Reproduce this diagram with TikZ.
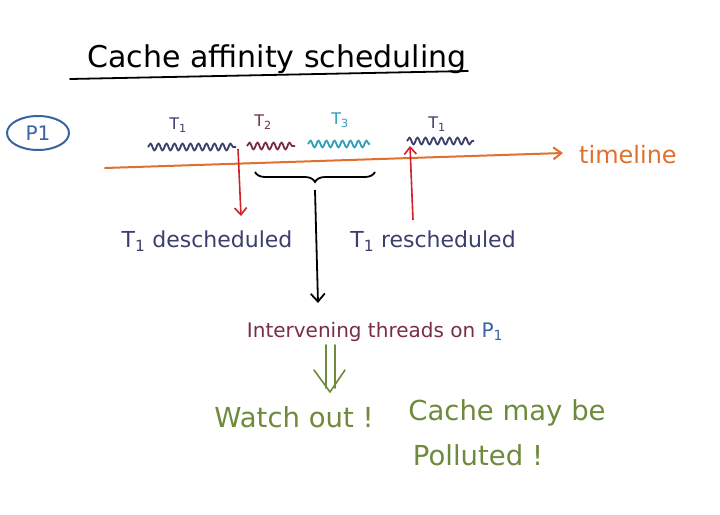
\documentclass[tikz,border=0pt]{standalone}
\usepackage{fontspec}
\setmainfont{DejaVu Sans}
\usetikzlibrary{arrows.meta,decorations.pathmorphing,decorations.pathreplacing,shapes.geometric}
\definecolor{navy}{HTML}{3C3F6E}
\definecolor{maroon}{HTML}{7A2E45}
\definecolor{tealc}{HTML}{2EA0B8}
\definecolor{orangec}{HTML}{E0702E}
\definecolor{redc}{HTML}{D0202C}
\definecolor{bluec}{HTML}{3A64A0}
\definecolor{greenc}{HTML}{6E8B3D}
\newcommand{\sbs}[1]{\textsubscript{#1}}
\tikzset{
  wave/.style={line width=1.8pt, line join=round, decorate, decoration={snake, amplitude=3.5pt, segment length=8pt}},
  lbl/.style={font=\fontsize{22}{24}\selectfont, inner sep=1pt, anchor=base},
  tlbl/.style={font=\fontsize{16}{18}\selectfont, inner sep=1pt},
  glbl/.style={font=\fontsize{27.5}{29}\selectfont, inner sep=1pt, anchor=base, text=greenc},
  redarrow/.style={draw=redc, line width=1.6pt, -{Straight Barb[length=7pt,width=12pt]}},
}
\begin{document}
\begin{tikzpicture}[x=1pt,y=-1pt]
\useasboundingbox (0,0) rectangle (720,514);
\fill[white] (0,0) rectangle (720,514);
% title
\node[font=\fontsize{30}{32}\selectfont, anchor=base, inner sep=0pt] (title) at (277,67) {Cache affinity scheduling};
\coordinate (ul1) at (70,79);
\coordinate (ul2) at (468,71);
\draw[line width=1.8pt, line cap=round] (ul1) -- (ul2);
% P1
\node[draw=bluec, text=bluec, line width=2pt, ellipse, minimum width=62pt, minimum height=34pt, inner sep=0pt, font=\fontsize{20}{22}\selectfont] (p1) at (38,133) {P1};
% timeline
\coordinate (tl0) at (105,168);
\coordinate (tl1) at (563,153);
\draw[orangec, line width=2pt, line cap=round, -{Straight Barb[length=8pt,width=12pt]}] (tl0) -- (tl1);
\node[text=orangec, lbl, anchor=base west, font=\fontsize{24}{26}\selectfont] (tl) at (578,163) {timeline};
% waves
\coordinate (w1a) at (148,147); \coordinate (w1b) at (236,147);
\coordinate (w2a) at (247,146); \coordinate (w2b) at (295,146);
\coordinate (w3a) at (308,144); \coordinate (w3b) at (370,144);
\coordinate (w4a) at (407,141); \coordinate (w4b) at (474,141);
\draw[navy, wave] (w1a) -- (w1b);
\draw[maroon, wave] (w2a) -- (w2b);
\draw[tealc, wave] (w3a) -- (w3b);
\draw[navy, wave] (w4a) -- (w4b);
\node[text=navy, tlbl] (t1a) at (178,125) {T\sbs{1}};
\node[text=maroon, tlbl] (t2) at (263,122) {T\sbs{2}};
\node[text=tealc, tlbl] (t3) at (340,120) {T\sbs{3}};
\node[text=navy, tlbl] (t1b) at (437,124) {T\sbs{1}};
% descheduled / rescheduled
\node[text=navy, lbl] (desch) at (207,247) {T\sbs{1} descheduled};
\node[text=navy, lbl] (resch) at (433,247) {T\sbs{1} rescheduled};
\coordinate (d0) at (238,149);
\coordinate (d1) at (241,216);
\draw[redarrow] (d0) -- (d1);
\coordinate (r0) at (413,220);
\coordinate (r1) at (410,146);
\draw[redarrow] (r0) -- (r1);
% brace
\coordinate (b0) at (255,172);
\coordinate (b1) at (375,172);
\draw[line width=1.8pt, decorate, decoration={brace, mirror, amplitude=10pt}] (b0) -- (b1);
\coordinate (bt) at (315,190);
% intervening
\node[lbl, font=\fontsize{20}{22}\selectfont] (interv) at (375,337) {\textcolor{maroon}{Intervening threads on} \textcolor{bluec}{P\sbs{1}}};
\coordinate (ia) at (318,303);
\draw[line width=1.8pt, -{Straight Barb[length=8pt,width=14pt]}] (bt) -- (ia);
% green double arrow
\coordinate (g1) at (330,392);
\draw[greenc, line width=1.6pt, line cap=round] (326,345) -- (326,388);
\draw[greenc, line width=1.6pt, line cap=round] (335,345) -- (335,388);
\draw[greenc, line width=1.6pt, line cap=round, line join=round] (314,370) -- (g1) -- (345,370);
% conclusions
\node[glbl] (watch) at (294,427) {Watch out !};
\node[glbl] (cache) at (507,420) {Cache may be};
\node[glbl] (poll) at (478,465) {Polluted !};
\end{tikzpicture}
\end{document}
